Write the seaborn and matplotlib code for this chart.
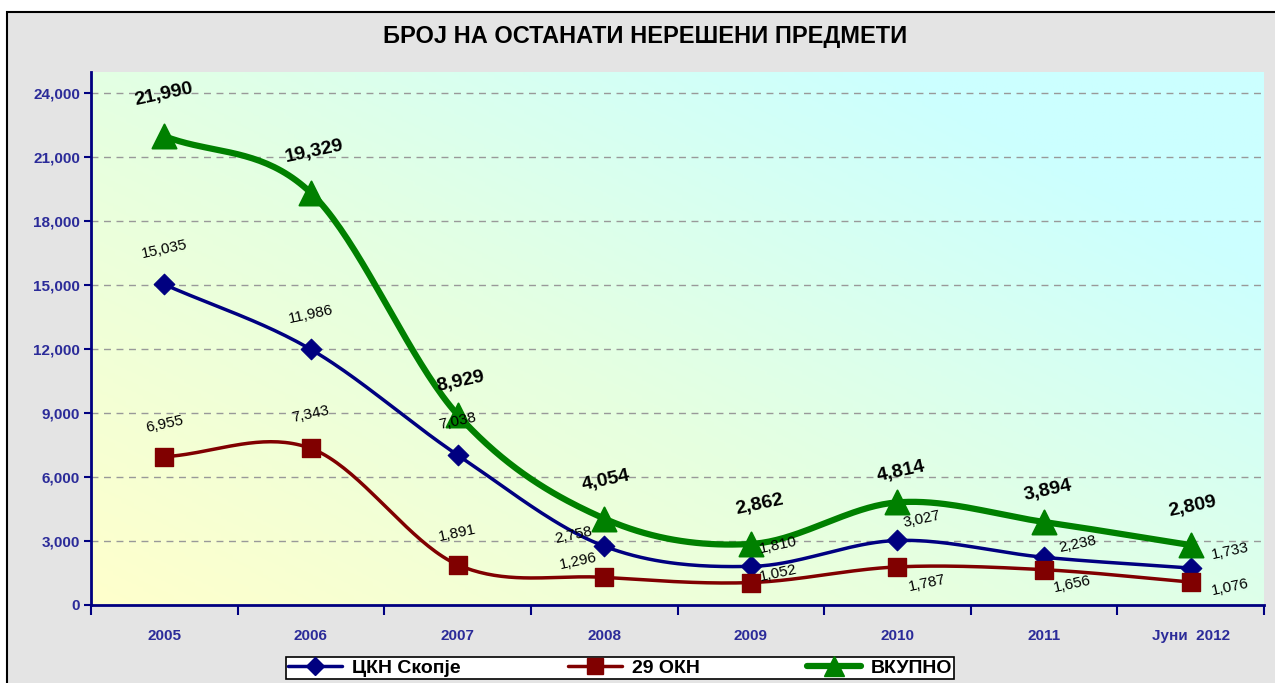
import numpy as np
import pandas as pd
import matplotlib
matplotlib.use('Agg')
import matplotlib.pyplot as plt
import seaborn as sns
from matplotlib.colors import LinearSegmentedColormap
from matplotlib.patches import Rectangle
from matplotlib.lines import Line2D

# data
years = ['2005', '2006', '2007', '2008', '2009', '2010', '2011', 'Јуни  2012']
ckn = [15035, 11986, 7038, 2758, 1810, 3027, 2238, 1733]
okn = [6955, 7343, 1891, 1296, 1052, 1787, 1656, 1076]
vkupno = [21990, 19329, 8929, 4054, 2862, 4814, 3894, 2809]
names = ['ЦКН Скопје', '29 ОКН', 'ВКУПНО']
title = 'БРОЈ НА ОСТАНАТИ НЕРЕШЕНИ ПРЕДМЕТИ'

sns.set_theme(style='white')
plt.rcParams['font.family'] = ['Liberation Sans', 'DejaVu Sans']
plt.rcParams['text.color'] = 'black'


def smooth(vals, n=40):
    # catmull-rom curve through the points, like excel's smoothed line
    y = np.asarray(vals, float)
    x = np.arange(len(y), dtype=float)
    py = np.concatenate([[2 * y[0] - y[1]], y, [2 * y[-1] - y[-2]]])
    xs, ys = [], []
    t = np.linspace(0, 1, n, endpoint=False)
    for i in range(len(y) - 1):
        p0, p1, p2, p3 = py[i], py[i + 1], py[i + 2], py[i + 3]
        seg = 0.5 * (2 * p1 + (-p0 + p2) * t + (2 * p0 - 5 * p1 + 4 * p2 - p3) * t ** 2
                     + (-p0 + 3 * p1 - 3 * p2 + p3) * t ** 3)
        xs.extend(x[i] + t)
        ys.extend(seg)
    xs.append(x[-1])
    ys.append(y[-1])
    return np.array(xs), np.array(ys)


fig = plt.figure(figsize=(12.75, 6.83), dpi=100)
fig.patch.set_facecolor('white')
fig.patches.append(Rectangle((7 / 1275, -0.05), 1.1, 1 - 12 / 683 + 0.05, transform=fig.transFigure,
                             facecolor='#e4e4e4', edgecolor='black', lw=1.5, zorder=-10))

ax = fig.add_axes([91 / 1275, 1 - 605 / 683, (1264 - 91) / 1275, (605 - 72) / 683])
ax.set_facecolor('none')

# gradient background
gx, gy = np.meshgrid(np.linspace(0, 1, 200), np.linspace(0, 1, 200))
grad = np.clip(0.65 * gx + 0.55 * gy, 0, 1)
cmap = LinearSegmentedColormap.from_list('bg', ['#ffffcc', '#e6ffe0', '#ccffff'])
ax.imshow(grad, extent=[0, 1, 0, 1], transform=ax.transAxes, origin='lower', cmap=cmap,
          aspect='auto', zorder=0)

ax.set_xlim(-0.5, 7.5)
ax.set_ylim(0, 25000)
for v in range(3000, 25000, 3000):
    ax.axhline(v, color='#999999', lw=1, ls=(0, (5, 4)), zorder=1)

styles = [
    (ckn, '#000080', 2.5, 'D', 110, 'normal', 11),
    (okn, '#800000', 2.5, 's', 150, 'normal', 11),
    (vkupno, '#008000', 4.5, '^', 300, 'bold', 14),
]
idx = np.arange(len(years))
for (vals, col, lw, mk, ms, fw, fs) in styles:
    sx, sy = smooth(vals)
    sns.lineplot(x=sx, y=sy, color=col, lw=lw, ax=ax, sort=False, zorder=3)
    sns.scatterplot(x=idx, y=vals, marker=mk, s=ms, color=col, edgecolor=col, ax=ax, zorder=4)

offs = {
    0: [(0, 35), (0, 35), (0, 34), (-31, 11), (27, 21), (24, 21), (34, 13), (40, 17)],
    1: [(0, 33), (0, 34), (0, 32), (-26, 16), (27, 9), (30, -16), (28, -14), (40, -5)],
    2: [(0, 42), (3, 41), (3, 33), (2, 38), (9, 39), (4, 31), (4, 31), (2, 39)],
}
for k, (vals, col, lw, mk, ms, fw, fs) in enumerate(styles):
    for i, v in enumerate(vals):
        ax.annotate(f'{v:,}', (i, v), xytext=offs[k][i], textcoords='offset pixels',
                    ha='center', va='center', rotation=12, fontsize=fs, fontweight=fw,
                    color='black', zorder=5)

# axes styling
for s in ['top', 'right']:
    ax.spines[s].set_visible(False)
for s in ['left', 'bottom']:
    ax.spines[s].set_color('#000080')
    ax.spines[s].set_linewidth(2)
ax.set_yticks(range(0, 25000, 3000))
ax.set_yticklabels([f'{v:,}' for v in range(0, 25000, 3000)])
ax.tick_params(axis='y', colors='#000080', length=5, width=1.5, direction='out', labelsize=11,
               labelcolor='#2b2b99', pad=3, left=True)
ax.set_xticks(np.arange(-0.5, 8, 1))
ax.set_xticklabels([])
ax.set_xticks(idx, minor=True)
ax.set_xticklabels(years, minor=True)
ax.tick_params(axis='x', which='major', colors='#000080', length=7, width=1.5, direction='out', bottom=True)
ax.tick_params(axis='x', which='minor', length=0, labelsize=11, labelcolor='#2b2b99', pad=17)
for lab in ax.get_yticklabels() + ax.get_xticklabels(minor=True):
    lab.set_fontweight('bold')
ax.grid(False)

fig.text(645 / 1275, 1 - 37 / 683, title, ha='center', va='center', fontsize=17, fontweight='bold',
         color='black')

handles = [Line2D([], [], color=c, lw=lw, marker=mk, markersize=m)
           for (c, lw, mk, m) in [('#000080', 2.5, 'D', 9), ('#800000', 2.5, 's', 11), ('#008000', 4.5, '^', 14)]]
leg = fig.legend(handles, names, loc='upper center', bbox_to_anchor=(620 / 1275, 1 - 657 / 683), ncol=3,
                 frameon=True, fancybox=False, edgecolor='black', framealpha=1, handlelength=2.8,
                 columnspacing=5.5, prop={'weight': 'bold', 'size': 14}, borderpad=0.1, handletextpad=0.5,
                 borderaxespad=0)
leg.get_frame().set_linewidth(1.2)
for t in leg.get_texts():
    t.set_color('black')

fig.savefig('out.png', dpi=100)
